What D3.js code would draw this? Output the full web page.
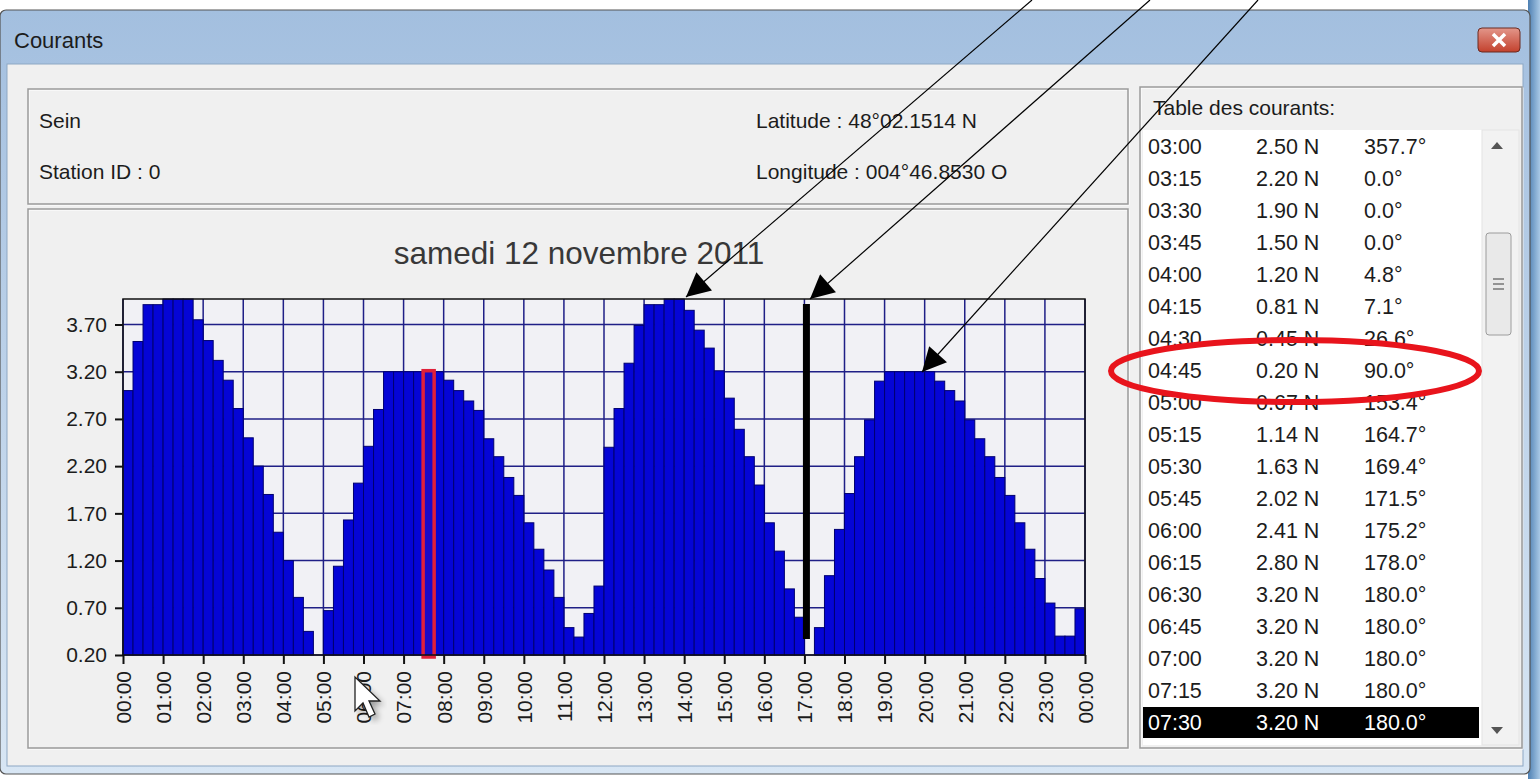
<!DOCTYPE html>
<html>
<head>
<meta charset="utf-8">
<script src="https://cdn.jsdelivr.net/npm/d3@7"></script>
<style>
  html, body { margin: 0; padding: 0; background: #ffffff; }
  svg { display: block; font-family: "Liberation Sans", Arial, sans-serif; }
</style>
</head>
<body>
<div id="chart"></div>
<script>
// current speed (knots) every 15 minutes, 00:00 -> 23:45
const speeds = [
  3.00, 3.52, 3.91, 3.91, 3.97, 3.97, 3.97, 3.75,
  3.53, 3.32, 3.11, 2.81, 2.50, 2.20, 1.90, 1.50,
  1.20, 0.81, 0.45, 0.20, 0.67, 1.14, 1.63, 2.02,
  2.41, 2.80, 3.20, 3.20, 3.20, 3.20, 3.20, 3.20,
  3.11, 3.00, 2.89, 2.79, 2.49, 2.30, 2.08, 1.89,
  1.60, 1.32, 1.10, 0.81, 0.49, 0.39, 0.64, 0.93,
  2.40, 2.81, 3.29, 3.69, 3.91, 3.91, 3.97, 3.97,
  3.85, 3.64, 3.45, 3.21, 2.92, 2.59, 2.30, 2.00,
  1.60, 1.30, 0.90, 0.60, 0.20, 0.49, 1.04, 1.53,
  1.91, 2.30, 2.69, 3.10, 3.20, 3.20, 3.20, 3.20,
  3.20, 3.10, 3.00, 2.89, 2.69, 2.49, 2.30, 2.08,
  1.89, 1.60, 1.32, 1.01, 0.75, 0.40, 0.40, 0.69
];
const yTicks = [0.20, 0.70, 1.20, 1.70, 2.20, 2.70, 3.20, 3.70];
const chartTitle = "samedi 12 novembre 2011";
const dayStart = new Date(2011, 10, 12, 0, 0);
const dayEnd = new Date(2011, 10, 13, 0, 0);
const selectedIndex = 30;   // 07:30, red outline
const nowTime = new Date(2011, 10, 12, 17, 3);

// table des courants (visible rows)
const tableTimes = ["03:00","03:15","03:30","03:45","04:00","04:15","04:30","04:45","05:00","05:15",
                    "05:30","05:45","06:00","06:15","06:30","06:45","07:00","07:15","07:30"];
const tableSpeeds = ["2.50 N","2.20 N","1.90 N","1.50 N","1.20 N","0.81 N","0.45 N","0.20 N","0.67 N","1.14 N",
                     "1.63 N","2.02 N","2.41 N","2.80 N","3.20 N","3.20 N","3.20 N","3.20 N","3.20 N"];
const tableDirs = ["357.7°","0.0°","0.0°","0.0°","4.8°","7.1°","26.6°","90.0°","153.4°","164.7°",
                   "169.4°","171.5°","175.2°","178.0°","180.0°","180.0°","180.0°","180.0°","180.0°"];
const tableSelected = 18;

let W = 1540, H = 779;
let svg = d3.select("#chart").append("svg").attr("width", W).attr("height", H);
let defs = svg.append("defs");

let grad = defs.append("linearGradient").attr("id", "titlebar").attr("x1", 0).attr("x2", 0).attr("y1", 0).attr("y2", 1);
grad.append("stop").attr("offset", "0%").attr("stop-color", "#a3bfdf");
grad.append("stop").attr("offset", "100%").attr("stop-color", "#d8e6f4");
let side = defs.append("linearGradient").attr("id", "side").attr("x1", 0).attr("x2", 1);
side.append("stop").attr("offset", "0%").attr("stop-color", "#4d7fb2");
side.append("stop").attr("offset", "100%").attr("stop-color", "#a9c9e6");
let btn = defs.append("linearGradient").attr("id", "btn").attr("x1", 0).attr("x2", 0).attr("y1", 0).attr("y2", 1);
btn.append("stop").attr("offset", "0%").attr("stop-color", "#e3968a");
btn.append("stop").attr("offset", "100%").attr("stop-color", "#c3412d");
defs.append("filter").attr("id", "blur").append("feGaussianBlur").attr("stdDeviation", 3);
defs.append("marker").attr("id", "head").attr("viewBox", "0 0 10 10").attr("refX", 10).attr("refY", 5)
  .attr("markerUnits", "userSpaceOnUse").attr("markerWidth", 36).attr("markerHeight", 24).attr("orient", "auto")
  .append("path").attr("d", "M0,0 L10,5 L0,10 Z").attr("fill", "#000");

// --- window frame ---
svg.append("rect").attr("x", 1528).attr("y", 0).attr("width", 12).attr("height", H).attr("fill", "url(#side)");
svg.append("rect").attr("x", 0).attr("y", 10).attr("width", 1530).attr("height", 764).attr("rx", 6)
  .attr("fill", "url(#titlebar)").attr("stroke", "#555").attr("stroke-width", 1.2);
svg.append("rect").attr("x", 7).attr("y", 64).attr("width", 1516).attr("height", 702)
  .attr("fill", "#f0f0f0").attr("stroke", "#8da7c4");
svg.append("text").attr("x", 14).attr("y", 48).attr("font-size", 22).attr("fill", "#1c1c1c").text("Courants");

let close = svg.append("g").attr("transform", "translate(1478,28)");
close.append("rect").attr("width", 42).attr("height", 24).attr("rx", 4).attr("fill", "url(#btn)").attr("stroke", "#6b2a20");
close.append("path").attr("d", "M15,6 L27,18 M27,6 L15,18").attr("stroke", "#fff").attr("stroke-width", 3.5);

// group boxes (etched)
function groupBox(x, y, w, h) {
  svg.append("rect").attr("x", x + 1).attr("y", y + 1).attr("width", w).attr("height", h).attr("fill", "none").attr("stroke", "#ffffff");
  svg.append("rect").attr("x", x).attr("y", y).attr("width", w).attr("height", h).attr("fill", "none").attr("stroke", "#9a9a9a").attr("stroke-width", 1.5);
}
groupBox(28, 89, 1100, 115);
groupBox(28, 209, 1100, 539);
groupBox(1140, 87, 382, 661);

let info = svg.append("g").attr("font-size", 21).attr("fill", "#1c1c1c");
info.append("text").attr("x", 39).attr("y", 128).text("Sein");
info.append("text").attr("x", 39).attr("y", 179).text("Station ID : 0");
info.append("text").attr("x", 756).attr("y", 128).text("Latitude : 48°02.1514 N");
info.append("text").attr("x", 756).attr("y", 179).text("Longitude : 004°46.8530 O");

// --- chart ---
let margin = {top: 299, left: 123},
    width = 1085 - 123,
    height = 655 - 299;

let x = d3.scaleTime().domain([dayStart, dayEnd]).range([0, width]);
let y = d3.scaleLinear().domain([0.20, 3.97]).range([height, 0]);

let g = svg.append("g").attr("transform", "translate(" + margin.left + "," + margin.top + ")");

svg.append("text").attr("x", 579).attr("y", 264).attr("text-anchor", "middle")
  .attr("font-size", 31.5).attr("fill", "#383838").text(chartTitle);

g.append("rect").attr("width", width).attr("height", height).attr("fill", "#f1f1f5");

let hours = d3.timeHour.range(dayStart, d3.timeMinute.offset(dayEnd, 1));

// grid
g.append("g").selectAll("line").data(yTicks).enter().append("line")
  .attr("x1", 0).attr("x2", width)
  .attr("y1", d => y(d)).attr("y2", d => y(d))
  .attr("stroke", "#1f1f86").attr("stroke-width", 1.5);
g.append("g").selectAll("line").data(hours).enter().append("line")
  .attr("x1", d => x(d)).attr("x2", d => x(d))
  .attr("y1", 0).attr("y2", height)
  .attr("stroke", "#1f1f86").attr("stroke-width", 1.5);

// bars
let quarter = (i) => d3.timeMinute.offset(dayStart, 15 * i);
g.append("g").selectAll("rect").data(speeds).enter().append("rect")
  .attr("x", (d, i) => x(quarter(i)))
  .attr("y", d => y(d))
  .attr("width", (d, i) => x(quarter(i + 1)) - x(quarter(i)))
  .attr("height", d => height - y(d))
  .attr("fill", "#0505d6")
  .attr("stroke", "#000070")
  .attr("stroke-width", 1);

// selected bar
g.append("rect")
  .attr("x", x(quarter(selectedIndex)) - 0.5)
  .attr("y", y(speeds[selectedIndex]) - 1)
  .attr("width", x(quarter(selectedIndex + 1)) - x(quarter(selectedIndex)) + 1)
  .attr("height", height - y(speeds[selectedIndex]) + 3)
  .attr("fill", "#1a0ac8").attr("stroke", "#e0203a").attr("stroke-width", 3.5);

// current time marker
g.append("rect")
  .attr("x", x(nowTime) - 3.5).attr("y", 5)
  .attr("width", 7).attr("height", y(0.20) - 21)
  .attr("fill", "#000");

g.append("rect").attr("width", width).attr("height", height).attr("fill", "none").attr("stroke", "#111").attr("stroke-width", 1.5);

// axes
let yAxis = g.append("g")
  .call(d3.axisLeft(y).tickValues(yTicks).tickFormat(d3.format(".2f")).tickSize(8).tickPadding(8));
let xAxis = g.append("g").attr("transform", "translate(0," + height + ")")
  .call(d3.axisBottom(x).tickValues(hours).tickFormat(d3.timeFormat("%H:%M")).tickSize(9));
[yAxis, xAxis].forEach(a => {
  a.select(".domain").remove();
  a.selectAll(".tick line").attr("stroke", "#111").attr("stroke-width", 2);
  a.selectAll("text").attr("font-size", 21).attr("font-family", "Liberation Sans, Arial, sans-serif").attr("fill", "#1c1c1c");
});
xAxis.selectAll("text")
  .attr("transform", "rotate(-90)")
  .attr("text-anchor", "end")
  .attr("x", -16).attr("y", 0).attr("dy", "0.35em");

// --- table des courants ---
svg.append("text").attr("x", 1153).attr("y", 115).attr("font-size", 21).attr("fill", "#1c1c1c").text("Table des courants:");
svg.append("rect").attr("x", 1143).attr("y", 130).attr("width", 376).attr("height", 615).attr("fill", "#ffffff");

let rows = svg.append("g").attr("font-size", 21.5);
tableTimes.forEach((t, i) => {
  let ry = 130 + 32 * i;
  let sel = i === tableSelected;
  if (sel) rows.append("rect").attr("x", 1143).attr("y", ry + 1).attr("width", 336).attr("height", 31).attr("fill", "#000");
  let col = sel ? "#ffffff" : "#1c1c1c";
  rows.append("text").attr("x", 1148).attr("y", ry + 24).attr("fill", col).text(t);
  rows.append("text").attr("x", 1256).attr("y", ry + 24).attr("fill", col).text(tableSpeeds[i]);
  rows.append("text").attr("x", 1364).attr("y", ry + 24).attr("fill", col).text(tableDirs[i]);
});

// scrollbar
svg.append("rect").attr("x", 1482).attr("y", 130).attr("width", 37).attr("height", 615).attr("fill", "#f2f2f2").attr("stroke", "#e4e4e4");
svg.append("path").attr("d", "M1491,149 L1497,142 L1503,149 Z").attr("fill", "#555");
svg.append("path").attr("d", "M1491,727 L1497,734 L1503,727 Z").attr("fill", "#555");
svg.append("rect").attr("x", 1486).attr("y", 233).attr("width", 25).attr("height", 102).attr("rx", 3)
  .attr("fill", "#e9e9e9").attr("stroke", "#9c9c9c");
svg.append("path").attr("d", "M1493,279 h11 M1493,284 h11 M1493,289 h11").attr("stroke", "#777").attr("stroke-width", 1.5);

// --- annotations ---
svg.append("ellipse").attr("cx", 1295).attr("cy", 371).attr("rx", 184).attr("ry", 31)
  .attr("fill", "none").attr("stroke", "#e8141c").attr("stroke-width", 6);

let arrows = [
  {from: [1032, 0], to: [686, 297]},
  {from: [1150, 0], to: [810, 299]},
  {from: [1258, 0], to: [922, 372]}
];
svg.append("g").selectAll("line").data(arrows).enter().append("line")
  .attr("x1", d => d.from[0]).attr("y1", d => d.from[1])
  .attr("x2", d => d.to[0]).attr("y2", d => d.to[1])
  .attr("stroke", "#000").attr("stroke-width", 1.2)
  .attr("marker-end", "url(#head)");

// mouse pointer
let cur = svg.append("g").attr("transform", "translate(355,677)");
cur.append("path").attr("d", "M4,4 L4,38 L12,30 L18,44 L24,41 L18,28 L29,28 Z")
  .attr("fill", "#000").attr("opacity", 0.35).attr("filter", "url(#blur)");
cur.append("path").attr("d", "M0,0 L0,34 L8,26 L14,40 L20,37 L14,24 L25,24 Z")
  .attr("fill", "#fff").attr("stroke", "#222").attr("stroke-width", 1.3);
</script>
</body>
</html>
